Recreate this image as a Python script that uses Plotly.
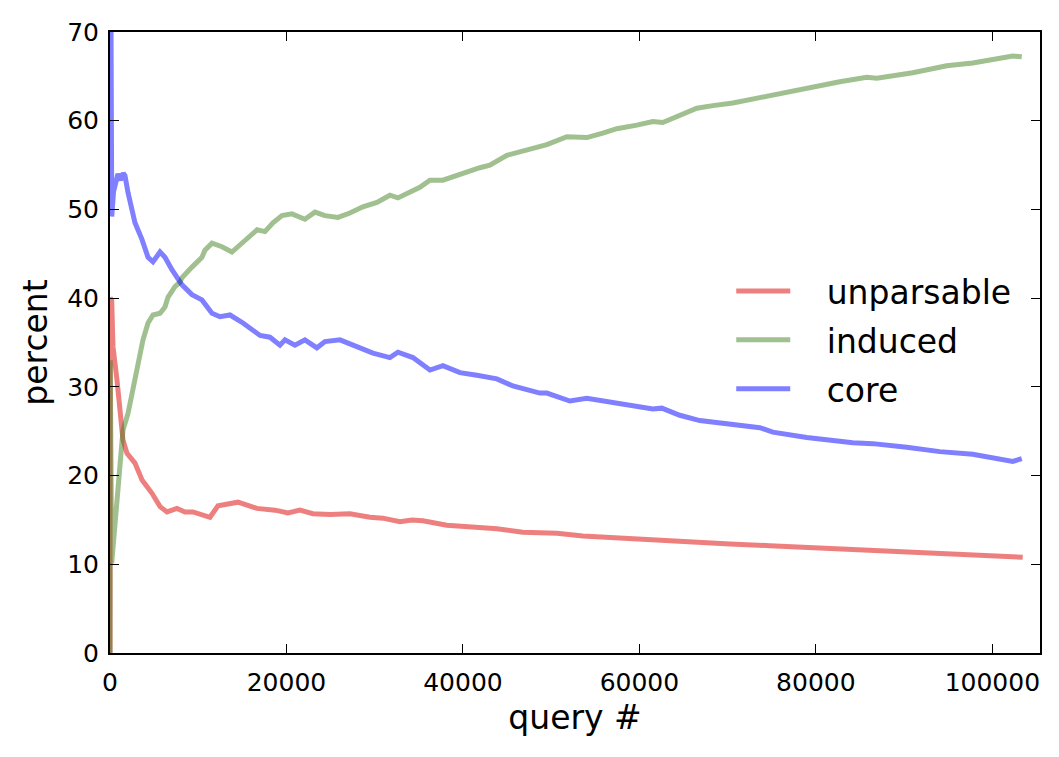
import plotly.graph_objects as go

# --- data ---
unparsable_x = [0, 30, 190, 340, 790, 1130, 1470, 1930, 2830, 3630, 4760, 5670, 6460, 7590, 8500, 9400,
                10420, 11330, 12240, 13820, 14500, 16660, 18690, 20170, 21530, 23000, 24930, 27190, 29460,
                30930, 32860, 34220, 35460, 38180, 40790, 43850, 46790, 50650, 53590, 56990, 61980, 66510,
                70250, 74780, 79310, 84980, 89510, 94830, 100040, 103440]
unparsable_y = [0, 40, 39.8, 34.5, 30.8, 27.0, 24.0, 22.5, 21.4, 19.5, 18.0, 16.5, 15.9, 16.3, 15.9, 15.9,
                15.6, 15.3, 16.6, 16.8, 17.0, 16.3, 16.1, 15.8, 16.1, 15.7, 15.6, 15.7, 15.3,
                15.2, 14.8, 15.0, 14.9, 14.4, 14.2, 14.0, 13.6, 13.5, 13.2, 13.0, 12.7, 12.4,
                12.3, 12.1, 11.9, 11.7, 11.5, 11.3, 11.0, 10.8]

induced_x = [0, 30, 190, 905, 1470, 2040, 2830, 3170, 3740, 4310, 4870, 5670, 6230, 6570, 7360, 7930, 8160,
             9290, 10420, 10760, 11560, 12690, 13820, 15070, 16660, 17560, 18470, 19490, 20620, 22090,
             23230, 24360, 25830, 27190, 28660, 30250, 31720, 32630, 33990, 35120, 36260, 37730, 41920,
             43050, 44980, 46110, 47930, 49510, 51780, 54040, 55860, 57440, 59710, 61520, 62650, 64580,
             66510, 68320, 70590, 73650, 75120, 78970, 82710, 85770, 86900, 90980, 94830, 97780, 102310,
             103330]
induced_y = [0, 33, 10.1, 19.5, 25.1, 27.0, 30.8, 32.7, 35.3, 37.2, 38.1, 38.3, 39.0, 40.1, 41.3, 41.8, 42.3,
             43.5, 44.6, 45.4, 46.2, 45.8, 45.2, 46.3, 47.7, 47.5, 48.5, 49.3, 49.5, 48.9,
             49.7, 49.3, 49.1, 49.6, 50.3, 50.8, 51.6, 51.3, 51.9, 52.5, 53.3, 53.3, 54.7,
             55.0, 56.1, 56.4, 57.0, 57.3, 58.2, 58.1, 58.6, 59.1, 59.5, 59.9, 59.8, 60.6,
             61.4, 61.7, 62.0, 62.6, 62.9, 63.7, 64.4, 64.9, 64.8, 65.4, 66.2, 66.5, 67.3,
             67.2]

core_x = [0, 100, 200, 400, 700, 900, 1200, 1500, 1700, 2040, 2830, 3630, 4310, 4870, 5670, 6230, 7020,
          8160, 9290, 10420, 11560, 12460, 13600, 15070, 17000, 18130, 19260, 19830, 20960, 22090, 23450,
          24360, 26060, 27990, 29800, 31720, 32630, 34330, 36260, 37730, 39660, 41580, 43850, 45660,
          48720, 49510, 52120, 54040, 55860, 57780, 61520, 62540, 64580, 66850, 68320, 70590, 73650,
          75120, 78970, 84180, 86450, 90300, 94040, 97780, 102310, 103330]
core_y = [100, 62, 49.2, 52, 53.5, 54, 53.3, 54.1, 53.8, 51.9, 48.5, 46.6, 44.6, 44.1, 45.2, 44.6, 43.2,
          41.5, 40.4, 39.8, 38.3, 37.9, 38.1, 37.2, 35.8, 35.6, 34.7, 35.3, 34.7, 35.3, 34.4,
          35.1, 35.3, 34.5, 33.8, 33.3, 33.9, 33.3, 31.9, 32.4, 31.6, 31.3, 30.9, 30.1,
          29.3, 29.3, 28.4, 28.7, 28.4, 28.0, 27.5, 27.6, 26.8, 26.2, 26.0, 25.8, 25.4,
          24.9, 24.3, 23.7, 23.6, 23.2, 22.7, 22.4, 21.6, 21.9]

x_ticks = [0, 20000, 40000, 60000, 80000, 100000]
y_ticks = [0, 10, 20, 30, 40, 50, 60, 70]

series = [
    ("unparsable", unparsable_x, unparsable_y, "rgba(221,0,0,0.5)"),
    ("induced", induced_x, induced_y, "rgba(65,129,33,0.5)"),
    ("core", core_x, core_y, "rgba(0,0,255,0.5)"),
]

pad = "\u00a0\u00a0\u00a0"
fig = go.Figure()
for i, (name, xs, ys, col) in enumerate(series):
    fig.add_trace(go.Scatter(x=xs, y=ys, mode="lines", name=pad + name, legendgroup=name,
                             line=dict(color=col, width=5), cliponaxis=True))

font = "DejaVu Sans, Liberation Sans, sans-serif"
axis_common = dict(showgrid=False, zeroline=False, showline=True, linecolor="black", linewidth=2,
                   mirror="ticks", ticks="inside", ticklen=9, tickwidth=1, tickcolor="black",
                   tickfont=dict(family=font, size=25, color="black"))

fig.update_layout(
    width=1059, height=757,
    margin=dict(l=110, r=19, t=32, b=104),
    paper_bgcolor="white", plot_bgcolor="white",
    showlegend=True,
    legend=dict(x=0.668, y=0.628, xanchor="left", yanchor="top", bgcolor="rgba(0,0,0,0)",
                font=dict(family=font, size=33, color="black"), traceorder="grouped",
                tracegroupgap=3, itemwidth=54),
    xaxis=dict(range=[0, 105400], tickvals=x_ticks, ticktext=[str(v) for v in x_ticks],
               title=dict(text="query #", font=dict(family=font, size=33, color="black"), standoff=10),
               ticklabelstandoff=6, **axis_common),
    yaxis=dict(range=[0, 70], tickvals=y_ticks, ticktext=[str(v) for v in y_ticks],
               title=dict(text="percent", font=dict(family=font, size=33, color="black"), standoff=10),
               ticklabelstandoff=4, **axis_common),
)

fig.write_html("out.html")
